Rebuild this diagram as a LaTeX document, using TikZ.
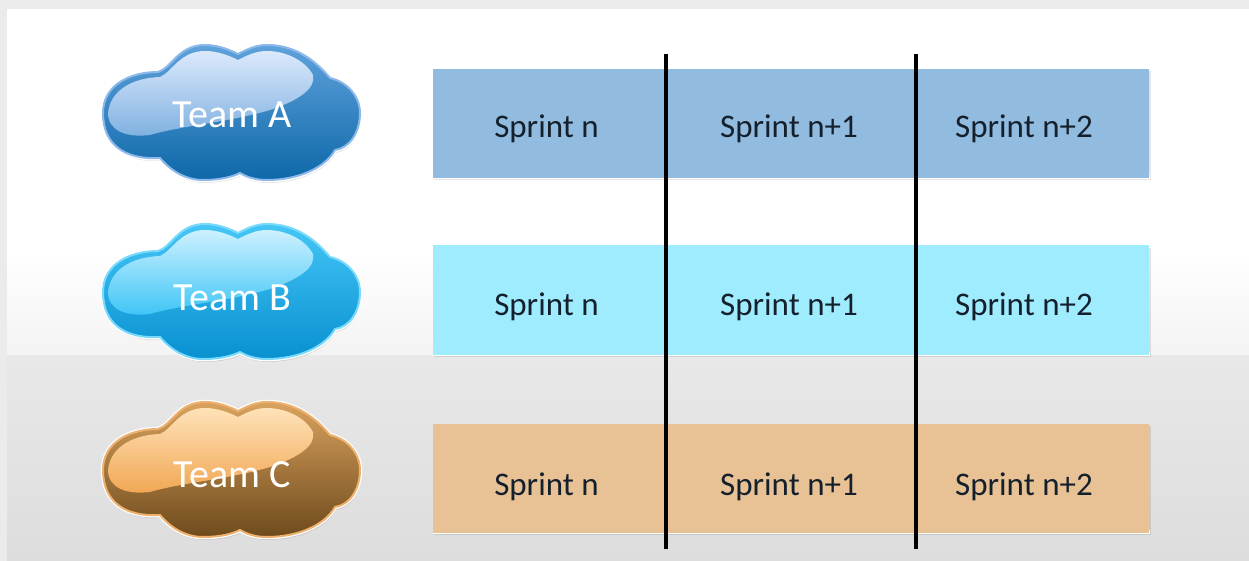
\documentclass[tikz,border=0pt]{standalone}
\usepackage{fontspec}
\setmainfont{Carlito}
\usetikzlibrary{positioning}
\definecolor{stripgray}{HTML}{EBEBEB}
\definecolor{bgmid}{HTML}{E8E8E8}
\definecolor{bgbot}{HTML}{DDDDDD}
\definecolor{sprinttext}{HTML}{14202C}
\definecolor{rowA}{HTML}{92BBE0}
\definecolor{rowB}{HTML}{9FECFF}
\definecolor{rowC}{HTML}{E8C294}
\definecolor{rimA}{HTML}{8CB8EA}\definecolor{topA}{HTML}{5FA2DC}\definecolor{midA}{HTML}{3A8AC6}\definecolor{botA}{HTML}{0E68A8}\definecolor{hiTopA}{HTML}{DCE9FC}\definecolor{hiBotA}{HTML}{7DB0E0}
\definecolor{rimB}{HTML}{7ADAFC}\definecolor{topB}{HTML}{45C6F6}\definecolor{midB}{HTML}{16B0EC}\definecolor{botB}{HTML}{0890D0}\definecolor{hiTopB}{HTML}{CDF1FF}\definecolor{hiBotB}{HTML}{3CC4F6}
\definecolor{rimC}{HTML}{EEB06E}\definecolor{topC}{HTML}{D9A25E}\definecolor{midC}{HTML}{A8793C}\definecolor{botC}{HTML}{6E4A1C}\definecolor{hiTopC}{HTML}{FFE2B8}\definecolor{hiBotC}{HTML}{F0A652}
\tikzset{
  rowbox/.style={rectangle,inner sep=0pt,minimum width=716pt,minimum height=109pt},
  rowshadow/.style={fill=black,opacity=.10},
  sprintlabel/.style={inner sep=0pt,text=sprinttext,font=\fontsize{33}{36}\selectfont,anchor=base},
  teamlabel/.style={inner sep=0pt,text=white,font=\fontsize{40}{44}\selectfont,anchor=base},
  divider/.style={draw=black,line width=3.6pt}
}
\newcommand{\cloudpath}{(158,72)
 .. controls (172,68) and (178,45) .. (205,45)
 .. controls (218,45) and (230,50) .. (238,54)
 .. controls (246,50) and (255,45) .. (267,45)
 .. controls (295,45) and (315,60) .. (330,78)
 .. controls (348,82) and (360,97) .. (360,113)
 .. controls (360,132) and (350,148) .. (335,150)
 .. controls (325,168) and (298,180) .. (267,180)
 .. controls (255,180) and (247,177) .. (240,173)
 .. controls (232,177) and (220,180) .. (203,180)
 .. controls (185,180) and (170,170) .. (160,158)
 .. controls (125,160) and (103,145) .. (103,113)
 .. controls (103,85) and (130,72) .. (158,72) -- cycle}
\newcommand{\hilitepath}{(108,113)
 .. controls (110,92) and (130,78) .. (160,77)
 .. controls (172,72) and (180,51) .. (205,51)
 .. controls (218,51) and (230,56) .. (238,60)
 .. controls (246,56) and (255,51) .. (267,51)
 .. controls (285,51) and (305,60) .. (313,75)
 .. controls (316,88) and (300,100) .. (270,110)
 .. controls (230,122) and (180,126) .. (150,135)
 .. controls (125,138) and (108,130) .. (108,113) -- cycle}
\newcommand{\teamcloud}[5]{%
 % #1 name, #2 vertical offset, #3 colour suffix, #4 label, #5 label y
 \begin{scope}[yshift=-#2pt]
  \fill[black,opacity=.10,xshift=1pt,yshift=-3pt] \cloudpath;
  \draw[white,line width=4.5pt,line join=round] \cloudpath;
  \shade[top color=top#3,middle color=mid#3,bottom color=bot#3,draw=rim#3,line width=2pt] \cloudpath;
  \shade[top color=hiTop#3,bottom color=hiBot#3] \hilitepath;
 \end{scope}
 \node[teamlabel] (#1) at (232.5,#5) {#4};
}
\begin{document}
\begin{tikzpicture}[x=1pt,y=-1pt]
\useasboundingbox (0,0) rectangle (1249,561);
% page background
\fill[white] (0,0) rectangle (1249,561);
\shade[top color=white,bottom color=bgmid] (0,250) rectangle (1249,460);
\shade[top color=bgmid,bottom color=bgbot] (0,355) rectangle (1249,561);
\fill[stripgray] (0,0) rectangle (1249,9);
\fill[stripgray] (0,0) rectangle (7,561);
% clouds
\teamcloud{teamA}{0}{A}{Team A}{128}
\teamcloud{teamB}{179}{B}{Team B}{310}
\teamcloud{teamC}{357}{C}{Team C}{487}
% rows
\foreach \nm/\cy in {rowA/123.5,rowB/300,rowC/478}{
  \fill[rowshadow] (434,\cy-52) rectangle (1151,\cy+57);
  \fill[white] (433,\cy+52) rectangle (1150,\cy+56);
}
\node[rowbox,fill=rowA] (rowA) at (791,123.5) {};
\node[rowbox,fill=rowB] (rowB) at (791,300) {};
\node[rowbox,fill=rowC] (rowC) at (791,478) {};
% labels
\foreach \nm/\by in {A/138,B/315,C/495}{
  \node[sprintlabel] (s1\nm) at (546.5,\by) {Sprint n};
  \node[sprintlabel] (s2\nm) at (789,\by) {Sprint n+1};
  \node[sprintlabel] (s3\nm) at (1024,\by) {Sprint n+2};
}
% dividers
\coordinate (d1top) at (666,54);
\coordinate (d1bot) at (666,549);
\coordinate (d2top) at (916,54);
\coordinate (d2bot) at (916,549);
\draw[divider] (d1top) -- (d1bot);
\draw[divider] (d2top) -- (d2bot);
\end{tikzpicture}
\end{document}
